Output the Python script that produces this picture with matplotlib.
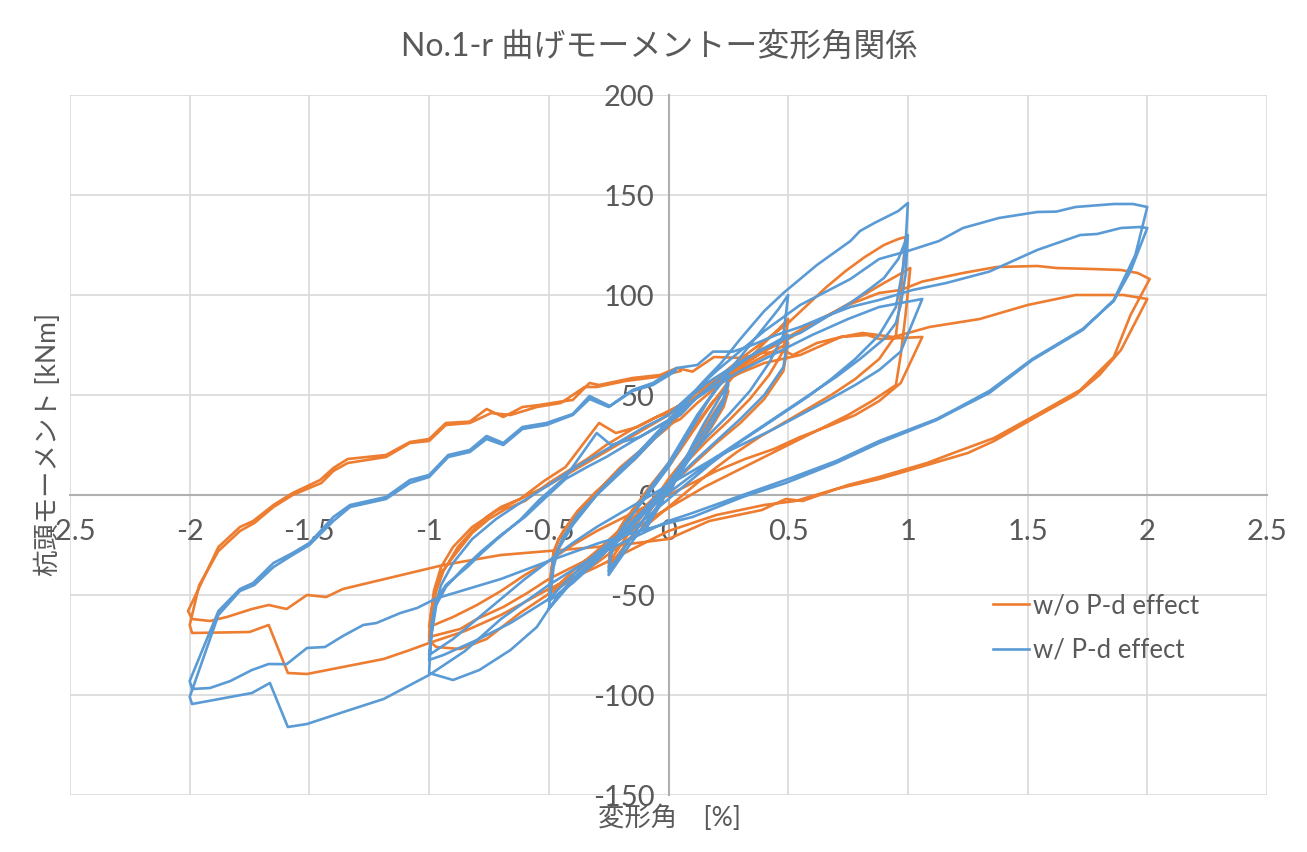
import numpy as np
import matplotlib
matplotlib.use("Agg")
import matplotlib.pyplot as plt

# ---- data: drift angle [%] vs pile-head moment [kNm] ----
# w/o P-d effect (orange), one list pair per loading cycle
wo_x_a = [0.00, 0.04, 0.08, 0.10, 0.07, 0.03, 0.00, -0.04, -0.08, -0.10, -0.07, -0.03, 0.00]
wo_y_a = [0, 10, 18, 23, 17, 9, 3, -5, -12, -16, -11, -4, 4]

wo_x_b = [0.05, 0.10, 0.15, 0.20, 0.25, 0.23, 0.18, 0.12, 0.06, 0.00, -0.06, -0.12, -0.18, -0.25,
          -0.24, -0.20, -0.14, -0.08, 0.00]
wo_y_b = [12, 24, 34, 43, 52, 44, 34, 24, 14, 5, -5, -15, -25, -36, -28, -16, -6, 4, 16]

wo_x_c = [0.06, 0.12, 0.18, 0.25, 0.23, 0.16, 0.08, 0.00, -0.08, -0.16, -0.25, -0.24, -0.18, -0.10, 0.00]
wo_y_c = [26, 36, 46, 55, 45, 32, 20, 8, -6, -18, -34, -24, -12, 0, 14]

wo_x_d = [0.08, 0.16, 0.24, 0.32, 0.40, 0.46, 0.50,
          0.48, 0.42, 0.34, 0.25, 0.16, 0.08, 0.00, -0.10, -0.20, -0.30, -0.40, -0.46, -0.50,
          -0.48, -0.46, -0.40, -0.34, -0.28, -0.20, -0.12, -0.05, 0.00]
wo_y_d = [28, 42, 55, 66, 76, 83, 88,
          72, 60, 48, 37, 27, 17, 6, -6, -17, -28, -38, -45, -50,
          -30, -22, -12, -4, 4, 14, 22, 30, 35]

wo_x_e = [0.05, 0.12, 0.20, 0.28, 0.36, 0.44, 0.50,
          0.48, 0.40, 0.30, 0.20, 0.10, 0.00, -0.10, -0.20, -0.30, -0.40, -0.50,
          -0.48, -0.44, -0.38, -0.30, -0.22, -0.14, -0.06, 0.00]
wo_y_e = [38, 46, 54, 61, 67, 72, 76,
          62, 48, 36, 26, 15, 4, -8, -19, -30, -40, -48,
          -28, -18, -8, 2, 10, 18, 28, 34]

wo_x_f = [0.06, 0.14, 0.22, 0.30, 0.40, 0.50, 0.58, 0.66, 0.74, 0.82, 0.90, 0.96, 0.99,
          0.97, 0.95, 0.88, 0.78, 0.68, 0.58, 0.48, 0.38, 0.28, 0.18, 0.08, 0.00, -0.10, -0.20,
          -0.30, -0.40, -0.52, -0.62, -0.76, -0.87, -0.97, -1.00,
          -0.99, -0.97, -0.94, -0.88, -0.82, -0.76, -0.70, -0.62, -0.52, -0.43, -0.29, -0.22,
          -0.13, -0.05, 0.00]
wo_y_f = [42, 52, 60, 68, 77, 86, 95, 104, 112, 119, 125, 128, 129,
          100, 80, 68, 58, 50, 43, 36, 29, 21, 12, 2, -6, -16, -25,
          -34, -42, -51, -59, -72, -77, -76, -73,
          -60, -48, -38, -26, -18, -11, -6, -2, 7, 14, 36, 31,
          34, 39, 41]

wo_x_g = [0.08, 0.16, 0.24, 0.32, 0.40, 0.50, 0.60, 0.70, 0.80, 0.90, 0.96, 1.01,
          0.99, 0.97, 0.95, 0.85, 0.75, 0.65, 0.55, 0.45, 0.35, 0.25, 0.15, 0.05, -0.05, -0.15,
          -0.25, -0.35, -0.50, -0.59, -0.69, -0.80, -0.87, -1.00,
          -0.99, -0.97, -0.95, -0.88, -0.82, -0.75, -0.68, -0.60, -0.50, -0.42, -0.34, -0.26,
          -0.15, -0.05, 0.00]
wo_y_g = [48, 55, 61, 66, 72, 78, 85, 92, 99, 106, 110, 113.5,
          90, 70, 55, 47, 40, 34, 28, 22, 16, 10, 4, -3, -10, -18,
          -26, -33, -42, -49, -56, -62, -67, -71,
          -58, -45, -39, -28, -19, -12, -7, -3, 6, 12, 18, 25,
          33, 39, 42]

wo_x_h = [0.10, 0.20, 0.30, 0.40, 0.55, 0.72, 0.83, 0.88, 1.06,
          0.97, 0.88, 0.78, 0.66, 0.55, 0.44, 0.32, 0.20, 0.10, 0.00, -0.10, -0.20, -0.30,
          -0.40, -0.50, -0.60, -0.70, -0.80, -0.90, -1.00,
          -0.98, -0.95, -0.90, -0.82, -0.72, -0.62, -0.50, -0.40, -0.30, -0.20, -0.10, 0.00]
wo_y_h = [48, 55, 61, 66, 70, 79, 80, 78, 79,
          56, 47, 40, 34, 29, 23, 18, 12, 6, 0, -6, -12, -18,
          -25, -33, -40, -48, -55, -61, -66,
          -48, -36, -26, -16, -8, -2, 5, 12, 19, 26, 33, 40]

wo_x_i = [0.20, 0.40, 0.60, 0.75, 0.88, 0.97, 1.06, 1.23, 1.37, 1.54, 1.62, 1.77, 1.89, 1.96, 2.01,
          1.93, 1.86, 1.72, 1.55, 1.36, 1.19, 1.08, 0.88, 0.75, 0.56, 0.49, 0.39, 0.17, 0.00,
          -0.20, -0.50, -0.70, -0.94, -1.08, -1.22, -1.36, -1.43, -1.51, -1.595, -1.67, -1.74,
          -1.845, -1.915, -1.99,
          -2.007, -1.88, -1.79, -1.735, -1.65, -1.57, -1.455, -1.40, -1.34, -1.18, -1.08, -1.00,
          -0.93, -0.83, -0.76, -0.69, -0.61, -0.54, -0.45, -0.40, -0.33, -0.29, -0.15, -0.035,
          0.034, 0.10]
wo_y_i = [56, 72, 86, 95, 101, 102.5, 106.7, 111, 114, 114.5, 113.5, 113, 112.5, 111, 108,
          90, 69, 52.5, 41, 28.5, 21, 16, 9, 5, -3, -2, -7.5, -13, -22,
          -25, -28, -30, -35, -39, -43, -47, -51, -50, -57, -55, -57,
          -61, -63, -62,
          -58, -26, -16, -13, -5, 1, 7.5, 13.5, 18, 20, 26.5, 28,
          36, 36.7, 43, 39, 44, 45, 46.7, 47.5, 56, 55, 58.5, 60,
          63.5, 61.7]

wo_x_j = [0.19, 0.31, 0.39, 0.49, 0.52, 0.62, 0.72, 0.81, 0.94, 1.09, 1.30, 1.50, 1.70, 1.90, 2.00,
          1.89, 1.80, 1.70, 1.55, 1.36, 1.25, 1.08, 0.88, 0.70, 0.53, 0.40, 0.20, 0.00, -0.30,
          -0.50, -0.70, -0.85, -1.00, -1.08, -1.19, -1.36, -1.51, -1.59, -1.67, -1.75, -1.99, -2.00,
          -1.96, -1.88, -1.79, -1.73, -1.65, -1.57, -1.45, -1.40, -1.34, -1.18, -1.08, -1.00,
          -0.93, -0.83, -0.74, -0.66, -0.55, -0.45, -0.35, -0.30, -0.18, -0.05, 0.05]
wo_y_j = [69, 68.5, 71, 71.7, 70, 76, 79, 81, 79, 84, 88, 95, 100, 100, 98,
          72.5, 60, 50, 40, 27, 21, 15, 8, 3, -3, -5, -10, -18, -36,
          -47, -60, -68, -74, -77.5, -82, -86, -89.5, -89, -65, -68.5, -69, -65,
          -45, -28, -18, -14, -6, 0, 6, 12, 16, 19, 26, 27,
          35, 36, 41, 40, 44, 46, 54, 54, 57, 59, 62]

# w/ P-d effect (blue)
w_x_a = wo_x_a
w_y_a = [0, 10, 19, 24, 18, 10, 3, -5, -13, -18, -12, -4, 4]

w_x_b = wo_x_b
w_y_b = [12, 25, 36, 46, 56, 46, 35, 24, 13, 3, -8, -18, -28, -40, -30, -18, -8, 3, 16]

w_x_c = wo_x_c
w_y_c = [28, 40, 50, 60, 48, 34, 20, 6, -8, -22, -38, -26, -14, -2, 14]

w_x_d = wo_x_d
w_y_d = [30, 46, 60, 72, 84, 93, 100,
         80, 66, 52, 40, 29, 18, 6, -7, -19, -31, -42, -50, -57,
         -36, -27, -15, -6, 3, 13, 22, 31, 37]

w_x_e = wo_x_e
w_y_e = [40, 49, 57, 64, 71, 76, 80,
         64, 50, 38, 27, 16, 4, -9, -21, -33, -44, -53,
         -32, -21, -10, 0, 9, 18, 28, 35]

w_x_f = [0.06, 0.14, 0.22, 0.30, 0.40, 0.48, 0.55, 0.62, 0.69, 0.76, 0.80, 0.86, 0.91, 0.96, 1.00,
         0.99, 0.98, 0.95, 0.88, 0.78, 0.68, 0.58, 0.48, 0.38, 0.28, 0.18, 0.08, 0.00, -0.10,
         -0.20, -0.30, -0.40, -0.50, -0.55, -0.66, -0.79, -0.90, -1.00,
         -0.99, -0.97, -0.93, -0.84, -0.78, -0.72, -0.62, -0.54, -0.43, -0.30, -0.24, -0.12, 0.00]
w_y_f = [44, 56, 66, 78, 92, 101, 108, 115, 121, 127, 132, 136, 139, 142, 146,
         125, 114, 94, 80, 68, 58, 49, 41, 33, 25, 16, 6, -2, -12,
         -22, -32, -43, -57, -66, -77.5, -87.5, -92.5, -89,
         -65, -52.5, -45, -36, -29, -22.5, -12.5, -2.5, 9, 31, 25, 29, 37.5]

w_x_g = [0.08, 0.16, 0.24, 0.32, 0.40, 0.50, 0.55, 0.66, 0.76, 0.84, 0.90, 0.96, 1.00,
         0.99, 0.97, 0.95, 0.90, 0.80, 0.70, 0.60, 0.50, 0.40, 0.30, 0.20, 0.10, 0.00, -0.10,
         -0.20, -0.30, -0.40, -0.50, -0.66, -0.80, -0.94, -1.00,
         -0.99, -0.97, -0.93, -0.86, -0.78, -0.70, -0.60, -0.52, -0.43, -0.34, -0.26, -0.12, 0.00]
w_y_g = [48, 56, 62, 68, 73, 79, 81, 89, 96, 103, 108.5, 118, 130,
         110, 95, 86, 78, 68, 59, 51, 43, 35, 27, 19, 10, 1, -9,
         -19, -29, -40, -52, -64, -72.5, -80, -82.5,
         -70, -55, -46, -37, -28, -20, -11, -2, 8, 14, 19, 29, 37]

w_x_h = [0.10, 0.20, 0.30, 0.40, 0.50, 0.60, 0.75, 0.88, 1.06,
         0.97, 0.88, 0.78, 0.66, 0.55, 0.44, 0.32, 0.20, 0.10, 0.00, -0.10, -0.20, -0.30,
         -0.40, -0.50, -0.60, -0.70, -0.80, -0.90, -1.00,
         -0.98, -0.95, -0.90, -0.82, -0.72, -0.62, -0.50, -0.40, -0.30, -0.20, -0.10, 0.00]
w_y_h = [47, 55, 62, 68, 74, 80, 88, 94, 98,
         71.7, 62.5, 55, 47, 40, 33, 26, 19, 12, 5, -2, -9, -16,
         -24, -33, -42, -52, -62, -72, -80,
         -58, -45, -34, -22, -12, -4, 5, 13, 20, 27, 34, 40]

w_x_i = [0.20, 0.40, 0.55, 0.76, 0.88, 1.00, 1.13, 1.23, 1.38, 1.54, 1.62, 1.70, 1.86, 1.94, 2.00,
         1.95, 1.86, 1.73, 1.52, 1.34, 1.20, 1.12, 0.88, 0.70, 0.49, 0.31, 0.10, 0.00, -0.15,
         -0.29, -0.50, -0.70, -0.97, -1.05, -1.12, -1.22, -1.275, -1.36, -1.435, -1.51, -1.595,
         -1.67, -1.74, -1.83, -1.915, -1.99,
         -2.00, -1.88, -1.79, -1.735, -1.65, -1.57, -1.50, -1.40, -1.33, -1.18, -1.08, -1.00,
         -0.92, -0.83, -0.76, -0.69, -0.61, -0.51, -0.40, -0.33, -0.245, -0.15, -0.065, 0.034,
         0.12, 0.186, 0.27]
w_y_i = [62, 82, 95, 108, 118, 122, 127, 133.5, 138.5, 141.5, 141.7, 144, 145.5, 145.5, 144,
         120, 97.5, 82.5, 67.5, 51, 42.5, 37.5, 26, 16, 6, -1, -11, -14, -19,
         -24, -33, -42, -51.7, -56.5, -59, -64, -65, -70.5, -76, -76.5, -84.6,
         -84.5, -87.5, -93, -96.5, -97,
         -93, -58, -47, -44, -34, -29, -24, -11, -5, -1, 7.5, 10,
         20, 22.5, 29.5, 26, 34, 36, 40.5, 49.5, 44.5, 52.5, 56, 63.5,
         65, 71.7, 71.7]

w_x_j = [0.35, 0.45, 0.55, 0.65, 0.76, 0.88, 1.02, 1.16, 1.34, 1.54, 1.72, 1.79, 1.89, 1.97, 2.00,
         1.93, 1.86, 1.73, 1.52, 1.34, 1.20, 1.12, 0.88, 0.70, 0.50, 0.31, 0.10, 0.00, -0.30,
         -0.50, -0.70, -0.85, -1.00, -1.19, -1.345, -1.51, -1.59, -1.665, -1.74, -1.83, -1.90,
         -1.99, -2.00,
         -1.88, -1.79, -1.73, -1.65, -1.57, -1.50, -1.40, -1.33, -1.18, -1.08, -1.00, -0.92,
         -0.83, -0.76, -0.69, -0.61, -0.51, -0.40, -0.33, -0.25, -0.15, -0.065, 0.03]
w_y_j = [75, 80, 84, 89, 94, 97.5, 102.5, 106, 111.7, 122.5, 130, 130.5, 133.5, 134, 133.5,
         112, 97, 83, 68, 52, 43, 38, 27, 17, 8, 0, -9, -13, -30,
         -45, -62, -78, -90, -102, -108, -114.5, -116, -94, -99, -101, -102.5,
         -104.5, -101,
         -60, -48, -45, -36, -30, -25, -13, -6, -2, 6, 9, 19,
         21.5, 28, 25, 33, 35, 40, 48, 44, 52, 55, 62]

x_ticks = [-2.5, -2, -1.5, -1, -0.5, 0, 0.5, 1, 1.5, 2, 2.5]
x_tick_labels = ["-2.5", "-2", "-1.5", "-1", "-0.5", "0", "0.5", "1", "1.5", "2", "2.5"]
y_ticks = [-150, -100, -50, 0, 50, 100, 150, 200]
y_tick_labels = ["-150", "-100", "-50", "0", "50", "100", "150", "200"]

series_names = ["w/o P-d effect", "w/ P-d effect"]

# ---- join the cycles into one continuous record per series ----
wo_x = np.concatenate([wo_x_a, wo_x_b, wo_x_c, wo_x_d, wo_x_e, wo_x_f, wo_x_g, wo_x_h, wo_x_i, wo_x_j])
wo_y = np.concatenate([wo_y_a, wo_y_b, wo_y_c, wo_y_d, wo_y_e, wo_y_f, wo_y_g, wo_y_h, wo_y_i, wo_y_j])
w_x = np.concatenate([w_x_a, w_x_b, w_x_c, w_x_d, w_x_e, w_x_f, w_x_g, w_x_h, w_x_i, w_x_j])
w_y = np.concatenate([w_y_a, w_y_b, w_y_c, w_y_d, w_y_e, w_y_f, w_y_g, w_y_h, w_y_i, w_y_j])

# ---- plotting ----
plt.rcParams['font.family'] = ['Lato', 'Noto Sans CJK JP', 'DejaVu Sans']
text_color = '#595959'

fig = plt.figure(figsize=(13.07, 8.52), dpi=100)
ax = fig.add_axes([70 / 1307, 57 / 852, 1197 / 1307, 700 / 852])

ax.plot(wo_x, wo_y, color='#ED7D31', lw=1.9, label=series_names[0], zorder=3)
ax.plot(w_x, w_y, color='#5B9BD5', lw=1.9, label=series_names[1], zorder=3)

ax.set_xlim(-2.5, 2.5)
ax.set_ylim(-150, 200)
ax.set_xticks(x_ticks)
ax.set_xticklabels(x_tick_labels)
ax.set_yticks(y_ticks)
ax.set_yticklabels(y_tick_labels)
ax.grid(True, color='#D9D9D9', lw=1.2)
ax.set_axisbelow(True)

for side in ['top', 'right']:
    ax.spines[side].set_visible(False)
for side in ['left', 'bottom']:
    ax.spines[side].set_position(('data', 0))
    ax.spines[side].set_color('#B0B0B0')
    ax.spines[side].set_linewidth(1.5)
    ax.spines[side].set_zorder(1)

ax.tick_params(axis='both', length=0, labelsize=21, colors=text_color)
ax.tick_params(axis='x', pad=17)
ax.tick_params(axis='y', pad=10)

fig.text(659 / 1307, 1 - 47 / 852, "No.1-r 曲げモーメントー変形角関係",
         ha='center', va='center', fontsize=23, color=text_color)
fig.text(669 / 1307, 1 - 818 / 852, "変形角\u3000[%]",
         ha='center', va='center', fontsize=19, color=text_color)
fig.text(48 / 1307, 1 - 445 / 852, "杭頭モーメント [kNm]",
         ha='center', va='center', rotation=90, fontsize=19, color=text_color)

leg = ax.legend(loc='center left', bbox_to_anchor=(993 / 1307, 1 - 628 / 852),
                bbox_transform=fig.transFigure, frameon=False, fontsize=18.5,
                handlelength=1.4, handletextpad=0.15, labelspacing=0.75,
                borderpad=0, borderaxespad=0)
for t in leg.get_texts():
    t.set_color(text_color)

fig.savefig("out.png", dpi=100)
